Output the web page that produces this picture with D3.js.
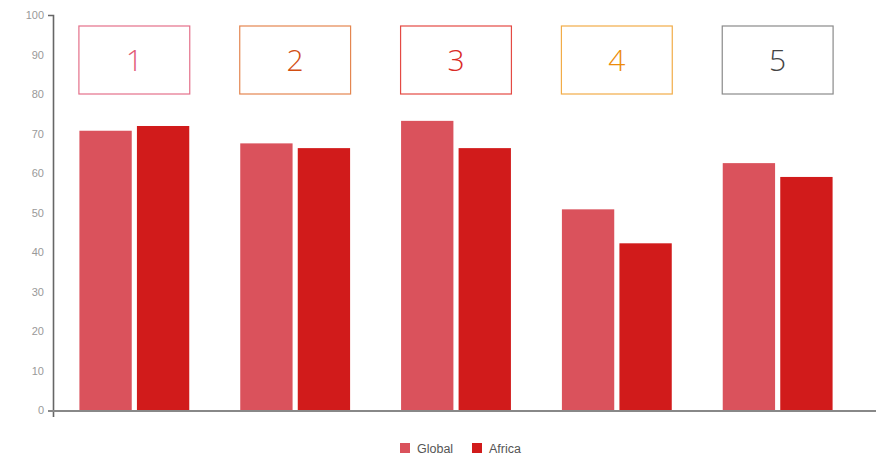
<!DOCTYPE html>
<html>
<head>
<meta charset="utf-8">
<script src="https://cdn.jsdelivr.net/npm/d3@7"></script>
<style>
  body { margin: 0; background: #fff; }
  svg { display: block; font-family: "Liberation Sans", Arial, sans-serif; }
</style>
</head>
<body>
<div id="chart"></div>
<script>
const categories = ["1", "2", "3", "4", "5"];
const series = ["Global", "Africa"];
const globalValues = [70.7, 67.5, 73.2, 50.8, 62.5];
const africaValues = [71.9, 66.3, 66.3, 42.2, 59.0];
const yTicks = [0, 10, 20, 30, 40, 50, 60, 70, 80, 90, 100];

const seriesColors = { Global: "#da525c", Africa: "#d11b1b" };
const boxStroke = ["#e4708a", "#e48650", "#e44a44", "#f2ac48", "#8a8a8a"];
const boxText = ["#e25a74", "#d24e12", "#d92a26", "#ec8c0a", "#444444"];

const W = 876, H = 457;
const svg = d3.select("#chart").append("svg").attr("width", W).attr("height", H);

const x0 = d3.scaleBand().domain(categories).range([54, 858]).paddingInner(0.317).paddingOuter(0.158);
const x1 = d3.scaleBand().domain(series).range([0, x0.bandwidth()]).paddingInner(0.09);
const y = d3.scaleLinear().domain([0, 100]).range([410, 15]);

const rows = categories.map((c, i) => ({ cat: c, i, Global: globalValues[i], Africa: africaValues[i] }));

// y axis
const yAxis = svg.append("g")
  .attr("transform", "translate(53,0)")
  .call(d3.axisLeft(y).tickValues(yTicks).tickSize(0).tickPadding(9));
yAxis.select(".domain").remove();
yAxis.selectAll("text").attr("fill", "#999").style("font-size", "11px");
svg.append("path").attr("d", "M48,15.5H53.5V417").attr("fill", "none").attr("stroke", "#666").attr("stroke-width", 1.6);
svg.append("path").attr("d", "M48,411H876").attr("fill", "none").attr("stroke", "#888").attr("stroke-width", 2);

// bars
const groups = svg.selectAll(".grp").data(rows).enter().append("g")
  .attr("transform", d => `translate(${x0(d.cat)},0)`);
groups.selectAll("rect")
  .data(d => series.map(s => ({ key: s, value: d[s] })))
  .enter().append("rect")
  .attr("x", d => x1(d.key))
  .attr("y", d => y(d.value))
  .attr("width", x1.bandwidth())
  .attr("height", d => y(0) - y(d.value))
  .attr("fill", d => seriesColors[d.key]);

// number boxes above each group
const boxes = svg.selectAll(".box").data(rows).enter().append("g")
  .attr("transform", d => `translate(${x0(d.cat)},26)`);
boxes.append("rect")
  .attr("x", -0.5).attr("y", 0)
  .attr("width", x0.bandwidth() + 1).attr("height", 68)
  .attr("fill", "none")
  .attr("stroke", d => boxStroke[d.i])
  .attr("stroke-width", 1.2);
boxes.append("text")
  .attr("x", x0.bandwidth() / 2)
  .attr("y", 34)
  .attr("dy", "0.36em")
  .attr("text-anchor", "middle")
  .attr("fill", d => boxText[d.i])
  .style("font-family", "'Open Sans', sans-serif")
  .style("font-weight", 300)
  .style("font-size", "30px")
  .text(d => d.cat);

// legend
const legend = svg.append("g").attr("transform", "translate(400,443)");
const legendX = [0, 72];
series.forEach((s, i) => {
  const g = legend.append("g").attr("transform", `translate(${legendX[i]},0)`);
  g.append("rect").attr("width", 10).attr("height", 10).attr("fill", seriesColors[s]);
  g.append("text").attr("x", 17).attr("y", 5).attr("dy", "0.36em")
    .attr("fill", "#555").style("font-size", "12.5px").text(s);
});
</script>
</body>
</html>
